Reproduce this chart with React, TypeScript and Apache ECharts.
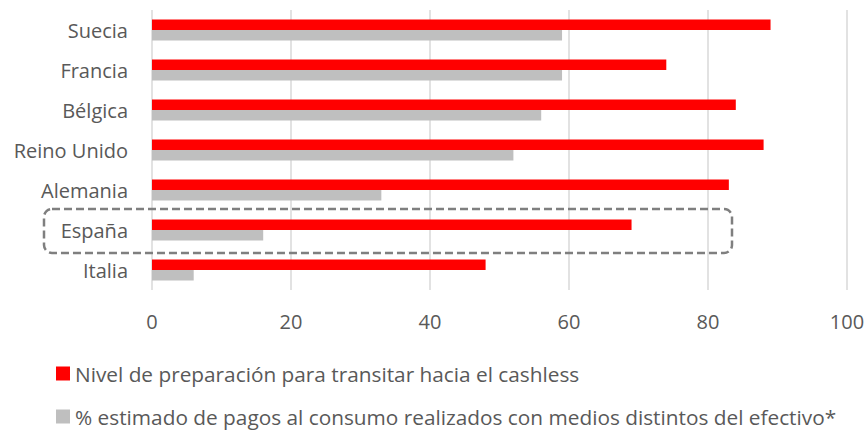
import React, { useEffect, useRef } from "react";
import * as echarts from "echarts";

const categories = ["Suecia", "Francia", "Bélgica", "Reino Unido", "Alemania", "España", "Italia"];
const readiness = [89, 74, 84, 88, 83, 69, 48];
const nonCash = [59, 59, 56, 52, 33, 16, 6];
const seriesNames = [
  "Nivel de preparación para transitar hacia el cashless",
  "% estimado de pagos al consumo realizados con medios distintos del efectivo*",
];
const xTicks = { min: 0, max: 100, interval: 20 };

const FONT = "'Open Sans', sans-serif";
const TEXT = "#595959";
const FS = 20;
const LEGEND_FS = 20.8;

export default function App() {
  const ref = useRef<HTMLDivElement>(null);
  useEffect(() => {
    if (!ref.current) return;
    const chart = echarts.init(ref.current, undefined, { renderer: "svg" });
    const legendBase = {
      orient: "horizontal",
      left: 56,
      padding: 0,
      itemWidth: 14,
      itemHeight: 14,
      icon: "rect",
      textStyle: { color: TEXT, fontSize: LEGEND_FS, fontFamily: FONT, lineHeight: 21 },
    };
    chart.setOption({
      animation: false,
      textStyle: { fontFamily: FONT },
      grid: { left: 152, right: 21, top: 10, bottom: 142, containLabel: false },
      xAxis: {
        type: "value",
        min: xTicks.min,
        max: xTicks.max,
        interval: xTicks.interval,
        axisLine: { show: false },
        axisTick: { show: false },
        splitLine: { show: true, lineStyle: { color: "#d9d9d9", width: 1.5 } },
        axisLabel: { color: TEXT, fontSize: FS, fontFamily: FONT, margin: 21 },
      },
      yAxis: {
        type: "category",
        data: categories,
        inverse: true,
        axisLine: { show: false },
        axisTick: { show: false },
        axisLabel: { color: TEXT, fontSize: FS, fontFamily: FONT, margin: 24 },
      },
      legend: [
        { ...legendBase, top: 363, data: [seriesNames[0]] },
        { ...legendBase, top: 406, data: [seriesNames[1]] },
      ],
      series: [
        {
          name: seriesNames[0],
          type: "bar",
          data: readiness,
          itemStyle: { color: "#ff0000" },
          barGap: "0%",
          barCategoryGap: "48%",
        },
        {
          name: seriesNames[1],
          type: "bar",
          data: nonCash,
          itemStyle: { color: "#bfbfbf" },
          barGap: "0%",
          barCategoryGap: "48%",
        },
      ],
      graphic: [
        {
          type: "rect",
          shape: { x: 44, y: 209, width: 688, height: 44, r: 8 },
          style: { fill: "none", stroke: "#7f7f7f", lineWidth: 2.5, lineDash: [8, 4] },
          z: 10,
        },
      ],
    });
    return () => chart.dispose();
  }, []);
  return <div ref={ref} style={{ width: 868, height: 432, position: "absolute", left: 0, top: 0 }} />;
}
